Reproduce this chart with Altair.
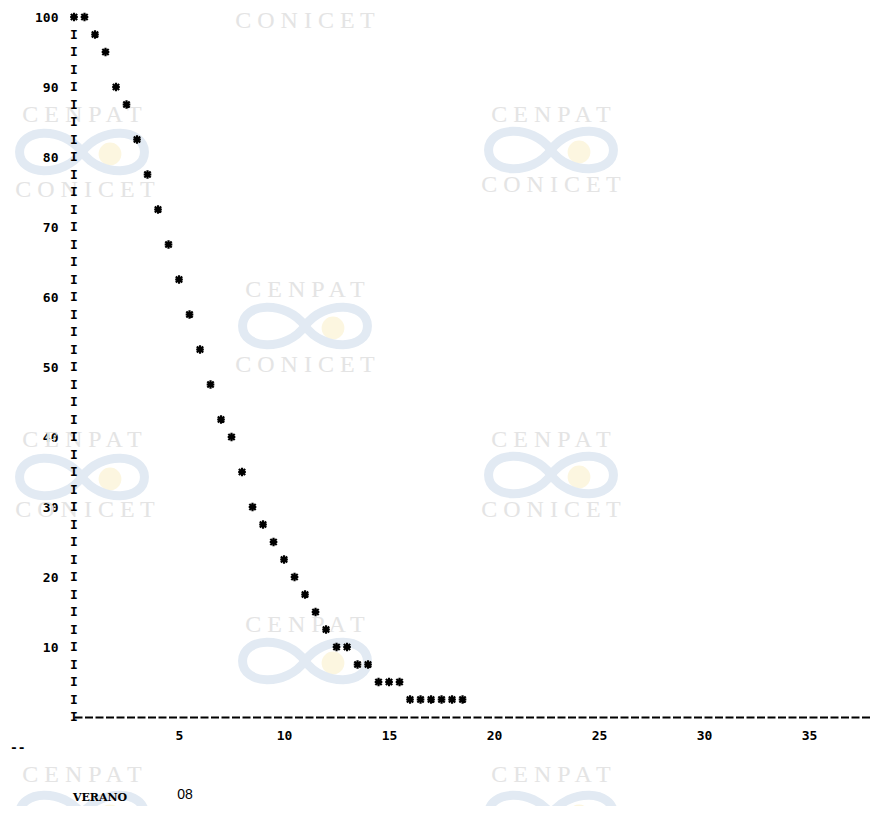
import altair as alt
import pandas as pd

# ---- data (VERANO 08) ----
x_vals = [0, 0.5, 1, 1.5, 2, 2.5, 3, 3.5, 4, 4.5, 5, 5.5, 6, 6.5, 7, 7.5, 8, 8.5,
          9, 9.5, 10, 10.5, 11, 11.5, 12, 12.5, 13, 13.5, 14, 14.5, 15, 15.5,
          16, 16.5, 17, 17.5, 18, 18.5]
y_vals = [100, 100, 97.5, 95, 90, 87.5, 82.5, 77.5, 72.5, 67.5, 62.5, 57.5, 52.5,
          47.5, 42.5, 40, 35, 30, 27.5, 25, 22.5, 20, 17.5, 15, 12.5, 10, 10,
          7.5, 7.5, 5, 5, 5, 2.5, 2.5, 2.5, 2.5, 2.5, 2.5]

y_ticks = [10, 20, 30, 40, 50, 60, 70, 80, 90, 100]
x_ticks = [5, 10, 15, 20, 25, 30, 35]
axis_rows = [0, 2.5, 5, 7.5, 10, 12.5, 15, 17.5, 20, 22.5, 25, 27.5, 30, 32.5,
             35, 37.5, 40, 42.5, 45, 47.5, 50, 52.5, 55, 57.5, 60, 62.5, 65,
             67.5, 70, 72.5, 75, 77.5, 80, 82.5, 85, 87.5, 90, 92.5, 95, 97.5]

# scan watermark decoration (pixel positions inside the plot area)
wm_text = ["C E N P A T", "C O N I C E T", "C E N P A T", "C O N I C E T",
           "C E N P A T", "C O N I C E T", "C E N P A T", "C O N I C E T",
           "C E N P A T", "C O N I C E T", "C E N P A T", "C O N I C E T",
           "C E N P A T", "C E N P A T"]
wm_px = [8, 11, 8, 11, 231, 231, 231, 231, 477, 477, 477, 477, 8, 477]
wm_py = [98, 173, 423, 493, 273, 4, 608, 348, 98, 168, 423, 493, 758, 758]
logo_px = [8, 8, 231, 231, 477, 477, 8, 477]
logo_py = [135, 460, 309, 644, 133, 458, 797, 797]

W, H = 796, 700
MONO = "DejaVu Sans Mono"
STAR = "M0,-1L0,1M-0.9,0L0.9,0M-0.75,-0.7L0.75,0.7M-0.75,0.7L0.75,-0.7"
LOGO = ("M0,0 C0.3,-0.42 1,-0.38 1,0 C1,0.38 0.3,0.42 0,0 "
        "C-0.3,-0.42 -1,-0.38 -1,0 C-1,0.38 -0.3,0.42 0,0 Z")

pts_df = pd.DataFrame({"x": x_vals, "y": y_vals})
rows_df = pd.DataFrame({"r": axis_rows})
wm_df = pd.DataFrame({"t": wm_text, "px": wm_px, "py": wm_py})
logo_df = pd.DataFrame({"px": logo_px, "py": logo_py})
sun_df = pd.DataFrame({"px": [p + 28 for p in logo_px], "py": [p + 2 for p in logo_py]})

xs = alt.Scale(domain=[0, 37.9], nice=False, zero=False)
ys = alt.Scale(domain=[0, 100], nice=False, zero=False)

sun = alt.Chart(sun_df).mark_point(shape="circle", filled=True, size=520,
                                   color="#fcf6e0", opacity=1).encode(
    x=alt.X("px:Q", scale=None, axis=None),
    y=alt.Y("py:Q", scale=None, axis=None))

logo = alt.Chart(logo_df).mark_point(shape=LOGO, filled=False, size=15600,
                                     color="#e2eaf3", opacity=1, strokeWidth=9).encode(
    x=alt.X("px:Q", scale=None, axis=None),
    y=alt.Y("py:Q", scale=None, axis=None))

wm = alt.Chart(wm_df).mark_text(font="Liberation Serif", fontSize=24, color="#e4e4e4",
                                align="center", baseline="middle").encode(
    x=alt.X("px:Q", scale=None, axis=None),
    y=alt.Y("py:Q", scale=None, axis=None),
    text="t:N")

bars = alt.Chart(rows_df).mark_text(text="I", font=MONO, fontWeight="bold", fontSize=13,
                                    color="black", baseline="middle", align="center").encode(
    x=alt.value(0),
    y=alt.Y("r:Q", scale=ys))

pts = alt.Chart(pts_df).mark_point(shape=STAR, filled=False, size=72, strokeWidth=2.2,
                                   color="black", opacity=1).encode(
    x=alt.X("x:Q", scale=xs,
            axis=alt.Axis(values=x_ticks, title=None, ticks=False, grid=False,
                          domainDash=[8, 2.5], domainWidth=1.8, domainColor="black",
                          labelFont=MONO, labelFontWeight="bold", labelFontSize=13,
                          labelColor="black", labelPadding=12, labelFlush=False,
                          labelOverlap=False)),
    y=alt.Y("y:Q", scale=ys,
            axis=alt.Axis(values=y_ticks, title=None, ticks=False, grid=False, domain=False,
                          labelFont=MONO, labelFontWeight="bold", labelFontSize=13,
                          labelColor="black", labelPadding=16, labelOverlap=False)))

dash = alt.Chart(pd.DataFrame({"t": ["--"]})).mark_text(
    font=MONO, fontWeight="bold", fontSize=13, align="left", baseline="middle",
    color="black").encode(x=alt.value(-64), y=alt.value(731), text="t:N")

verano = alt.Chart(pd.DataFrame({"t": ["VERANO"]})).mark_text(
    font="DejaVu Serif", fontWeight="bold", fontSize=11, align="center",
    baseline="alphabetic", color="black").encode(x=alt.value(26), y=alt.value(784), text="t:N")

num = alt.Chart(pd.DataFrame({"t": ["08"]})).mark_text(
    font="Liberation Sans", fontSize=14, align="center", baseline="alphabetic",
    color="black").encode(x=alt.value(111), y=alt.value(782), text="t:N")

chart = alt.layer(sun, logo, wm, bars, pts, dash, verano, num).properties(
    width=W, height=H,
    autosize=alt.AutoSizeParams(type="none"),
    padding={"left": 66, "top": 9, "right": 0, "bottom": 89},
    background="white",
).configure_view(stroke=None)

chart.save("out.html", embed_options={"renderer": "svg", "actions": False})
